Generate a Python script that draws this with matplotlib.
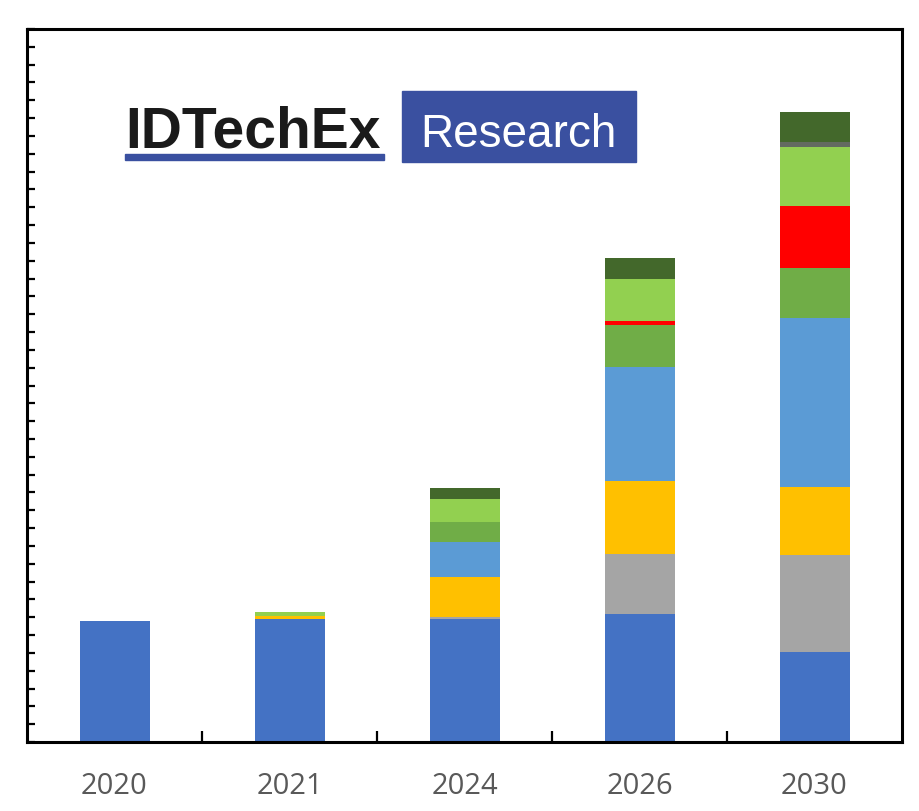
import matplotlib
matplotlib.use('Agg')
import matplotlib.pyplot as plt
from matplotlib.patches import Rectangle
import numpy as np

# categories (x axis)
years = ['2020', '2021', '2024', '2026', '2030']

# stacked segments, bottom to top (arbitrary units)
seg_blue = [6.80, 6.90, 6.90, 7.18, 5.07]
seg_gray = [0.00, 0.00, 0.13, 3.37, 5.44]
seg_yellow = [0.00, 0.19, 2.24, 4.07, 3.81]
seg_lightblue = [0.00, 0.00, 1.96, 6.41, 9.45]
seg_midgreen = [0.00, 0.00, 1.12, 2.37, 2.82]
seg_red = [0.00, 0.00, 0.00, 0.22, 3.50]
seg_lightgreen = [0.00, 0.19, 1.27, 2.36, 3.31]
seg_darkgray = [0.00, 0.00, 0.00, 0.00, 0.28]
seg_darkgreen = [0.00, 0.00, 0.62, 1.18, 1.67]

segments = [seg_blue, seg_gray, seg_yellow, seg_lightblue, seg_midgreen,
            seg_red, seg_lightgreen, seg_darkgray, seg_darkgreen]
colors = ['#4472C4', '#A5A5A5', '#FFC000', '#5B9BD5', '#70AD47',
          '#FF0000', '#92D050', '#636B60', '#43682B']

W, H = 920, 812
fig = plt.figure(figsize=(W / 100, H / 100), dpi=100)
ax = fig.add_axes([27 / W, (H - 743) / H, (902 - 27) / W, (743 - 30) / H])

x = np.arange(len(years))
bottom = np.zeros(len(years))
for vals, col in zip(segments, colors):
    vals = np.array(vals)
    ax.bar(x, vals, bottom=bottom, width=0.4, color=col, edgecolor='none', zorder=2)
    bottom += vals

ax.set_xlim(-0.5, len(years) - 0.5)
ax.set_ylim(0, 40)

# y axis: ticks only, no labels
ax.set_yticks(np.arange(0, 41, 1))
ax.tick_params(axis='y', direction='in', length=6, width=1.6, color='black',
               labelleft=False)

# x axis: short ticks at centres, longer ones between categories
ax.set_xticks(x, years)
ax.set_xticks(np.arange(0.5, len(years) - 0.5, 1), minor=True)
ax.tick_params(axis='x', which='major', direction='in', length=4, width=1.6,
               color='black', pad=21, labelsize=21, labelcolor='#595959')
ax.tick_params(axis='x', which='minor', direction='in', length=8, width=1.6,
               color='black')
for lab in ax.get_xticklabels():
    lab.set_fontfamily('Open Sans')

for sp in ax.spines.values():
    sp.set_linewidth(2.2)
    sp.set_color('black')
    sp.set_zorder(3)

# logo
fig.text(125 / W, (H - 147) / H, 'IDTechEx', fontsize=41, fontweight='bold',
         family='Liberation Sans', color='#1A1A1A', ha='left', va='baseline')
fig.patches.append(Rectangle((125 / W, (H - 161) / H), (384 - 125) / W, 6 / H,
                             transform=fig.transFigure, color='#3A50A0'))
fig.patches.append(Rectangle((402 / W, (H - 163) / H), (636 - 402) / W, 71 / H,
                             transform=fig.transFigure, color='#3A50A0'))
fig.text(518 / W, (H - 147) / H, 'Research', fontsize=33, family='Liberation Sans',
         color='white', ha='center', va='baseline')

plt.savefig('out.png', dpi=100)
plt.close()
